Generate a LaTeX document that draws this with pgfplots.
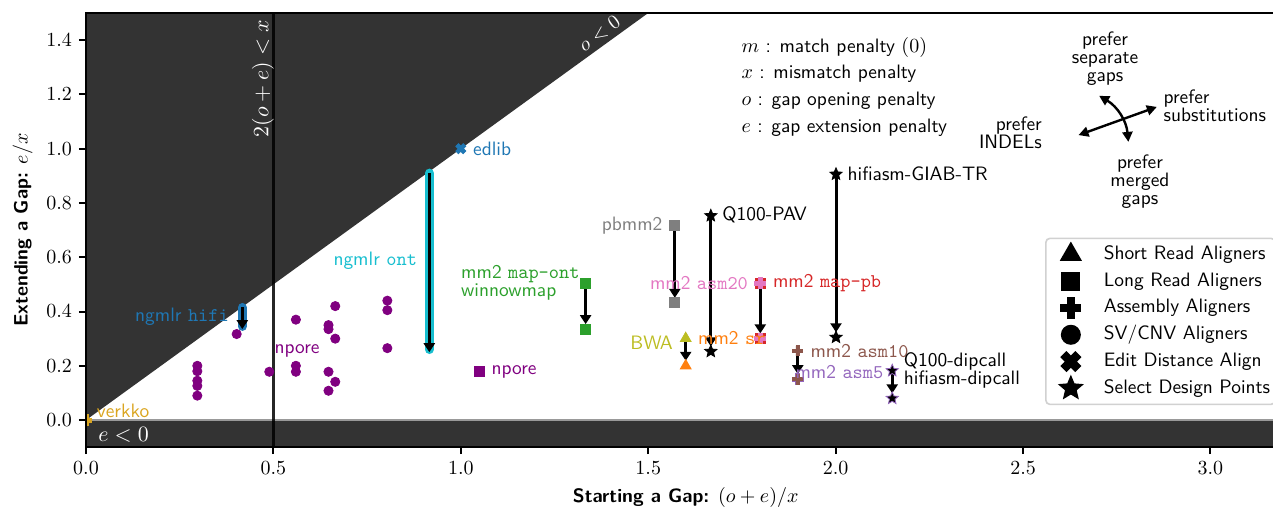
\documentclass[border=0pt]{standalone}
\usepackage{fontspec}
\usepackage{pgfplots}
\pgfplotsset{compat=1.18}
\usetikzlibrary{arrows.meta}
\renewcommand{\familydefault}{\sfdefault}

\definecolor{tabblue}{HTML}{1F77B4}
\definecolor{taborange}{HTML}{FF7F0E}
\definecolor{tabgreen}{HTML}{2CA02C}
\definecolor{tabred}{HTML}{D62728}
\definecolor{tabpurple}{HTML}{9467BD}
\definecolor{tabbrown}{HTML}{8C564B}
\definecolor{tabpink}{HTML}{E377C2}
\definecolor{tabgray}{HTML}{7F7F7F}
\definecolor{tabolive}{HTML}{BCBD22}
\definecolor{tabcyan}{HTML}{17BECF}
\definecolor{svpurple}{HTML}{800080}
\definecolor{verkkoc}{HTML}{DAA520}
\definecolor{darkfill}{HTML}{333333}

\pgfdeclareplotmark{fplus}{%
  \pgfpathmoveto{\pgfpoint{0.36\pgfplotmarksize}{\pgfplotmarksize}}%
  \pgfpathlineto{\pgfpoint{0.36\pgfplotmarksize}{0.36\pgfplotmarksize}}%
  \pgfpathlineto{\pgfpoint{\pgfplotmarksize}{0.36\pgfplotmarksize}}%
  \pgfpathlineto{\pgfpoint{\pgfplotmarksize}{-0.36\pgfplotmarksize}}%
  \pgfpathlineto{\pgfpoint{0.36\pgfplotmarksize}{-0.36\pgfplotmarksize}}%
  \pgfpathlineto{\pgfpoint{0.36\pgfplotmarksize}{-\pgfplotmarksize}}%
  \pgfpathlineto{\pgfpoint{-0.36\pgfplotmarksize}{-\pgfplotmarksize}}%
  \pgfpathlineto{\pgfpoint{-0.36\pgfplotmarksize}{-0.36\pgfplotmarksize}}%
  \pgfpathlineto{\pgfpoint{-\pgfplotmarksize}{-0.36\pgfplotmarksize}}%
  \pgfpathlineto{\pgfpoint{-\pgfplotmarksize}{0.36\pgfplotmarksize}}%
  \pgfpathlineto{\pgfpoint{-0.36\pgfplotmarksize}{0.36\pgfplotmarksize}}%
  \pgfpathlineto{\pgfpoint{-0.36\pgfplotmarksize}{\pgfplotmarksize}}%
  \pgfpathclose\pgfusepathqfillstroke}
\pgfdeclareplotmark{fx}{%
  \pgftransformrotate{45}%
  \pgfuseplotmark{fplus}}
\pgfdeclareplotmark{fstar}{%
  \pgfpathmoveto{\pgfpointpolar{90}{\pgfplotmarksize}}%
  \pgfpathlineto{\pgfpointpolar{126}{0.45\pgfplotmarksize}}%
  \pgfpathlineto{\pgfpointpolar{162}{\pgfplotmarksize}}%
  \pgfpathlineto{\pgfpointpolar{198}{0.45\pgfplotmarksize}}%
  \pgfpathlineto{\pgfpointpolar{234}{\pgfplotmarksize}}%
  \pgfpathlineto{\pgfpointpolar{270}{0.45\pgfplotmarksize}}%
  \pgfpathlineto{\pgfpointpolar{306}{\pgfplotmarksize}}%
  \pgfpathlineto{\pgfpointpolar{342}{0.45\pgfplotmarksize}}%
  \pgfpathlineto{\pgfpointpolar{18}{\pgfplotmarksize}}%
  \pgfpathlineto{\pgfpointpolar{54}{0.45\pgfplotmarksize}}%
  \pgfpathclose\pgfusepathqfillstroke}

\tikzset{
  darr/.style={black, line width=1.5pt, -{Triangle[length=4.5pt,width=5.5pt]}, shorten >=2.5pt},
  lbl/.style={font=\fontsize{9.7}{9}\selectfont, inner sep=0pt},
}
\pgfplotsset{
  legimg/.style={legend image code/.code={%
    \path[draw=none, fill=none] (-11.5pt,-4pt) rectangle (15pt,4pt);%
    \draw[overlay, sharp corners, fill opacity=1, draw opacity=1, ##1] plot coordinates {(0pt,0pt)};}},
}

\begin{document}
\begin{tikzpicture}
\begin{axis}[
  scale only axis, width=599.7pt, height=217.1pt,
  xmin=0, xmax=3.2, ymin=-0.1, ymax=1.5,
  axis on top,
  axis line style={line width=1pt},
  tick pos=left, tick align=outside,
  major tick length=3.5pt,
  every tick/.style={black, line width=1pt},
  xtick={0,0.5,1,1.5,2,2.5,3},
  ytick={0,0.2,0.4,0.6,0.8,1.0,1.2,1.4},
  xticklabel={\pgfmathprintnumber[fixed,fixed zerofill,precision=1]{\tick}},
  yticklabel={\pgfmathprintnumber[fixed,fixed zerofill,precision=1]{\tick}},
  ticklabel style={font=\fontsize{10.3}{12}\selectfont},
  xlabel={\textbf{Starting a Gap:} $(o+e)/x$},
  ylabel={\textbf{Extending a Gap:} $e/x$},
  label style={font=\fontsize{9.7}{11}\selectfont},
  clip marker paths=true,
  legend cell align=left,
  legend style={at={(0.7996,0.4828)}, anchor=north west, draw=black!18, line width=0.8pt,
    rounded corners=2pt, fill=white, fill opacity=0.8, text opacity=1, draw opacity=1,
    font=\fontsize{9.7}{11}\selectfont, inner xsep=1pt, inner ysep=2pt, row sep=1.4pt,
    nodes={inner sep=1.5pt, text height=7pt, text depth=2pt}},
]
% legend entries
\addlegendimage{only marks, mark=triangle*, mark size=5.6pt, black, legimg}
\addlegendentry{Short Read Aligners}
\addlegendimage{only marks, mark=square*, mark size=4.4pt, black, legimg}
\addlegendentry{Long Read Aligners}
\addlegendimage{only marks, mark=fplus, mark size=4.9pt, black, legimg}
\addlegendentry{Assembly Aligners}
\addlegendimage{only marks, mark=*, mark size=4.6pt, black, legimg}
\addlegendentry{SV/CNV Aligners}
\addlegendimage{only marks, mark=fx, mark size=4.9pt, black, legimg}
\addlegendentry{Edit Distance Align}
\addlegendimage{only marks, mark=fstar, mark size=5.8pt, black, legimg}
\addlegendentry{Select Design Points}

% shaded regions
\addplot[draw=none, fill=darkfill, forget plot] coordinates {(-0.2,-0.2)(1.8,1.8)(-0.2,1.8)} -- cycle;
\addplot[draw=none, fill=darkfill, forget plot] coordinates {(-0.2,-0.2)(3.5,-0.2)(3.5,0)(-0.2,0)} -- cycle;
\addplot[black!40, line width=0.8pt, forget plot] coordinates {(-0.2,0)(3.5,0)};
\addplot[black, opacity=0.85, line width=1.6pt, forget plot] coordinates {(0.5,-0.2)(0.5,1.8)};

\node[rotate=90, anchor=east, text=white, inner sep=0pt, font=\fontsize{10.5}{12}\selectfont] at (axis cs:0.472,1.475) {$2(o+e) < x$};
\node[rotate=35.9, text=white, inner sep=0pt, font=\fontsize{9.6}{11}\selectfont] at (axis cs:1.370,1.424) {$o < 0$};
\node[anchor=west, text=white, inner sep=0pt, font=\fontsize{10.5}{12}\selectfont] at (axis cs:0.032,-0.055) {$e < 0$};

% SV/CNV aligners
\addplot[only marks, mark=*, mark size=2.3pt, color=svpurple, forget plot] coordinates {
(0.402,0.317)(0.297,0.200)(0.297,0.180)(0.297,0.145)(0.297,0.126)(0.297,0.090)
(0.489,0.178)(0.560,0.370)(0.560,0.200)(0.560,0.178)(0.647,0.350)(0.647,0.335)
(0.665,0.420)(0.665,0.300)(0.647,0.178)(0.665,0.141)(0.647,0.108)
(0.804,0.440)(0.804,0.405)(0.804,0.265)};
\node[lbl, anchor=west, text=svpurple] at (axis cs:0.502,0.255) {npore};

% npore (long read)
\addplot[only marks, mark=square*, mark size=2.5pt, color=svpurple, forget plot] coordinates {(1.049,0.178)};
\node[lbl, anchor=west, text=svpurple] at (axis cs:1.081,0.178) {npore};

% edlib
\addplot[only marks, mark=fx, mark size=2.6pt, color=tabblue, forget plot] coordinates {(1.0,1.0)};
\node[lbl, anchor=west, text=tabblue] at (axis cs:1.032,1.0) {edlib};

% verkko
\addplot[only marks, mark=fplus, mark size=2.8pt, color=verkkoc, forget plot] coordinates {(0,0)};
\node[lbl, anchor=west, text=verkkoc] at (axis cs:0.028,0.034) {verkko};

% ngmlr highlights
\addplot[tabblue, line width=4.5pt, line cap=round, forget plot] coordinates {(0.417,0.415)(0.417,0.345)};
\addplot[black, line width=1.5pt, -{Triangle[length=4.5pt,width=5.5pt]}, forget plot] coordinates {(0.417,0.415)(0.417,0.335)};
\node[lbl, anchor=east, text=tabblue] at (axis cs:0.382,0.382) {ngmlr \texttt{hifi}};
\addplot[tabcyan, line width=4.5pt, line cap=round, forget plot] coordinates {(0.916,0.91)(0.916,0.26)};
\addplot[black, line width=1.5pt, -{Triangle[length=4.5pt,width=5.5pt]}, forget plot] coordinates {(0.916,0.91)(0.916,0.25)};
\node[lbl, anchor=east, text=tabcyan] at (axis cs:0.884,0.587) {ngmlr \texttt{ont}};

% design arrows
\addplot[darr, forget plot] coordinates {(1.333,0.504)(1.333,0.335)};
\addplot[darr, forget plot] coordinates {(1.571,0.716)(1.571,0.432)};
\addplot[darr, forget plot] coordinates {(1.667,0.753)(1.667,0.253)};
\addplot[darr, forget plot] coordinates {(1.799,0.504)(1.799,0.301)};
\addplot[darr, forget plot] coordinates {(1.600,0.301)(1.600,0.200)};
\addplot[darr, forget plot] coordinates {(1.899,0.255)(1.899,0.151)};
\addplot[darr, forget plot] coordinates {(2.001,0.906)(2.001,0.305)};
\addplot[darr, forget plot] coordinates {(2.151,0.182)(2.151,0.080)};

% markers
\addplot[only marks, mark=square*, mark size=2.5pt, color=tabgreen, forget plot] coordinates {(1.333,0.504)(1.333,0.335)};
\node[lbl, anchor=west, text=tabgreen, align=left] at (axis cs:1.0,0.505) {mm2 \texttt{map-ont}\\winnowmap};
\addplot[only marks, mark=square*, mark size=2.5pt, color=tabgray, forget plot] coordinates {(1.571,0.716)(1.571,0.432)};
\node[lbl, anchor=east, text=tabgray] at (axis cs:1.539,0.716) {pbmm2};
\addplot[only marks, mark=fstar, mark size=3.2pt, color=black, forget plot] coordinates {(1.667,0.753)(1.667,0.253)};
\node[lbl, anchor=west] at (axis cs:1.697,0.755) {Q100-PAV};
\addplot[only marks, mark=square*, mark size=2.5pt, color=tabred, forget plot] coordinates {(1.799,0.504)(1.799,0.301)};
\addplot[only marks, mark=fplus, mark size=2.7pt, color=tabpink, forget plot] coordinates {(1.799,0.504)(1.799,0.301)};
\node[lbl, anchor=east, text=tabpink] at (axis cs:1.767,0.504) {mm2 \texttt{asm20}};
\node[lbl, anchor=west, text=tabred] at (axis cs:1.832,0.504) {mm2 \texttt{map-pb}};
\addplot[only marks, mark=triangle*, mark size=3.1pt, color=tabolive, forget plot] coordinates {(1.600,0.301)};
\addplot[only marks, mark=triangle*, mark size=3.1pt, color=taborange, forget plot] coordinates {(1.600,0.200)};
\node[lbl, anchor=east, text=tabolive] at (axis cs:1.567,0.284) {BWA};
\node[lbl, anchor=west, text=taborange] at (axis cs:1.632,0.301) {mm2 \texttt{sr}};
\addplot[only marks, mark=fplus, mark size=2.7pt, color=tabpurple, forget plot] coordinates {(1.899,0.151)};
\addplot[only marks, mark=fplus, mark size=2.5pt, color=tabbrown, forget plot] coordinates {(1.899,0.255)(1.899,0.151)};
\node[lbl, anchor=west, text=tabbrown] at (axis cs:1.932,0.255) {mm2 \texttt{asm10}};
\node[lbl, anchor=west, text=tabpurple] at (axis cs:1.892,0.178) {mm2 \texttt{asm5}};
\addplot[only marks, mark=fstar, mark size=3.2pt, color=black, forget plot] coordinates {(2.001,0.906)(2.001,0.305)};
\node[lbl, anchor=west] at (axis cs:2.031,0.906) {hifiasm-GIAB-TR};
\addplot[only marks, mark=fstar, mark size=3.2pt, draw=tabpurple, fill=black, forget plot] coordinates {(2.151,0.182)(2.151,0.080)};
\node[lbl, anchor=west, align=left] at (axis cs:2.181,0.183) {Q100-dipcall\\hifiasm-dipcall};

% definitions
\node[lbl, anchor=west] at (axis cs:1.748,1.372) {$m$ : match penalty $(0)$};
\node[lbl, anchor=west] at (axis cs:1.748,1.275) {$x$ : mismatch penalty};
\node[lbl, anchor=west] at (axis cs:1.748,1.176) {$o$ : gap opening penalty};
\node[lbl, anchor=west] at (axis cs:1.748,1.077) {$e$ : gap extension penalty};

% preference diagram
\node[lbl, align=center] at (axis cs:2.719,1.330) {prefer\\separate\\gaps};
\node[lbl, anchor=west, align=left] at (axis cs:2.874,1.159) {prefer\\substitutions};
\node[lbl, anchor=east, align=right] at (axis cs:2.551,1.057) {prefer\\INDELs};
\node[lbl, align=center] at (axis cs:2.812,0.877) {prefer\\merged\\gaps};
\draw[line width=1.2pt, {Triangle[length=5pt,width=5pt]}-{Triangle[length=5pt,width=5pt]}] (axis cs:2.648,1.050) -- (axis cs:2.857,1.154);
\draw[line width=1.2pt, {Triangle[length=5pt,width=5pt]}-{Triangle[length=5pt,width=5pt]}] (axis cs:2.703,1.195) to[bend left=27] (axis cs:2.781,1.025);
\end{axis}
\pgfresetboundingbox
\path[use as bounding box] (-43pt,-31.5pt) rectangle (593.5pt,223.6pt);
\end{tikzpicture}
\end{document}
